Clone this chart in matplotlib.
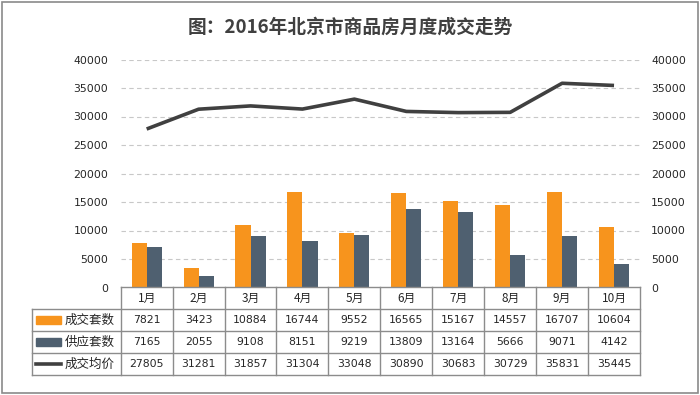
"""2016年北京市商品房月度成交走势 - bar + line chart with data table."""
import matplotlib
matplotlib.use("Agg")
import matplotlib.pyplot as plt
from matplotlib.patches import Rectangle

plt.rcParams["font.family"] = ["Noto Sans CJK SC", "DejaVu Sans"]

TITLE = "图：2016年北京市商品房月度成交走势"
months = ["1月", "2月", "3月", "4月", "5月", "6月", "7月", "8月", "9月", "10月"]
deals = [7821, 3423, 10884, 16744, 9552, 16565, 15167, 14557, 16707, 10604]
supply = [7165, 2055, 9108, 8151, 9219, 13809, 13164, 5666, 9071, 4142]
price = [27805, 31281, 31857, 31304, 33048, 30890, 30683, 30729, 35831, 35445]
series_names = ["成交套数", "供应套数", "成交均价"]
yticks = [0, 5000, 10000, 15000, 20000, 25000, 30000, 35000, 40000]

ORANGE = "#F7941D"
SLATE = "#4F6070"
LINE = "#404040"
TXT = "#262626"
GRID = "#c8c8c8"
CELL = "#8c8c8c"

W, H = 700, 395
fig = plt.figure(figsize=(W / 100, H / 100), dpi=100)
fig.patch.set_facecolor("white")
fig.patches.append(Rectangle((2 / W, 2 / H), 1 - 4 / W, 1 - 4 / H, transform=fig.transFigure,
                             fill=False, edgecolor="#8a8a8a", linewidth=1.2))

fig.text(0.5, 1 - 27 / H, TITLE, ha="center", va="center", fontsize=13.5,
         fontweight="bold", color="#404040")

# main plot area
x0, x1 = 120.7, 640.0
ytop, ybot = 59.5, 287.5
ax = fig.add_axes([x0 / W, 1 - ybot / H, (x1 - x0) / W, (ybot - ytop) / H])
n = len(months)
xs = list(range(n))
bw = 0.29
ax.bar([x - bw / 2 for x in xs], deals, width=bw, color=ORANGE, zorder=3)
ax.bar([x + bw / 2 for x in xs], supply, width=bw, color=SLATE, zorder=3)
ax2 = ax.twinx()
ax2.plot(xs, price, color=LINE, linewidth=2.6, solid_capstyle="butt", zorder=4)

for a in (ax, ax2):
    a.set_xlim(-0.5, n - 0.5)
    a.set_ylim(0, 40000)
    a.set_yticks(yticks)
    a.set_xticks([])
    for s in a.spines.values():
        s.set_visible(False)
    a.tick_params(axis="y", length=0, labelsize=7.8, labelcolor=TXT, pad=9)
for lab in ax.get_yticklabels() + ax2.get_yticklabels():
    lab.set_family("DejaVu Sans")
ax2.tick_params(axis="y", pad=8)
ax.yaxis.grid(True, color=GRID, linestyle=(0, (4, 3)), linewidth=0.8, zorder=0)
ax.set_axisbelow(True)

# data table
tleft = 31.7
ttop, tbot = 287.3, 375.0
tab = fig.add_axes([tleft / W, 1 - tbot / H, (x1 - tleft) / W, (tbot - ttop) / H])
colw = (x1 - x0) / n
lab_w = (x0 - tleft) / colw
tab.set_xlim(-0.5 - lab_w, n - 0.5)
tab.set_ylim(4, 0)
tab.axis("off")

kw = dict(color=CELL, linewidth=1.0, clip_on=False)
tab.plot([-0.5, n - 0.5], [0, 0], **kw)
for r in range(1, 5):
    tab.plot([-0.5 - lab_w, n - 0.5], [r, r], **kw)
tab.plot([-0.5 - lab_w, -0.5 - lab_w], [1, 4], **kw)
for c in range(n + 1):
    tab.plot([c - 0.5, c - 0.5], [0, 4], **kw)

for i, m in enumerate(months):
    tab.text(i, 0.5, m, ha="center", va="center", fontsize=8.5, color=TXT)
rows = [deals, supply, price]
for r, vals in enumerate(rows, start=1):
    for i, v in enumerate(vals):
        tab.text(i, r + 0.5, str(v), ha="center", va="center", fontsize=7.8,
                 color=TXT, family=["DejaVu Sans"])

# legend keys in the first column
kx0 = -0.5 - lab_w + 4 / colw
kw_len = 25 / colw
for r, (name, col) in enumerate(zip(series_names, [ORANGE, SLATE, LINE]), start=1):
    if r < 3:
        tab.add_patch(Rectangle((kx0, r + 0.33), kw_len, 0.34, color=col, clip_on=False))
    else:
        tab.plot([kx0, kx0 + kw_len], [r + 0.5, r + 0.5], color=col, linewidth=2.6,
                 clip_on=False)
    tab.text(kx0 + kw_len + 4 / colw, r + 0.5, name, ha="left", va="center",
             fontsize=9, color=TXT)

fig.savefig("out.png", dpi=100)
